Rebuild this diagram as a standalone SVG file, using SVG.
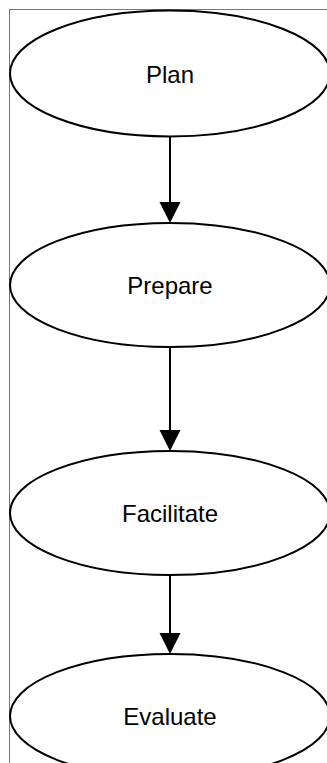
<svg xmlns="http://www.w3.org/2000/svg" width="327" height="763" viewBox="0 0 327 763">
<style>
.node ellipse{fill:#fff;stroke:#000;stroke-width:2}
.node text{font-family:"Liberation Sans",Arial,sans-serif;font-size:24px;fill:#000;text-anchor:middle}
.edge{stroke:#000;stroke-width:2;fill:none}
.head{fill:#000}
</style>
<rect x="9.5" y="9.5" width="330" height="770" fill="#fff" stroke="#777" stroke-width="1"/>
<g id="connectors">
<line class="edge" x1="170" y1="137" x2="170" y2="203"/>
<polygon class="head" points="159.5,202 180.5,202 170,223"/>
<line class="edge" x1="170" y1="347" x2="170" y2="431"/>
<polygon class="head" points="159.5,430 180.5,430 170,451"/>
<line class="edge" x1="170" y1="575" x2="170" y2="635"/>
<polygon class="head" points="159.5,633 180.5,633 170,654"/>
</g>
<g id="plan" class="node"><ellipse cx="170" cy="73.5" rx="160" ry="63"/><text x="170" y="82.5">Plan</text></g>
<g id="prepare" class="node"><ellipse cx="170" cy="285" rx="160" ry="62"/><text x="170" y="294">Prepare</text></g>
<g id="facilitate" class="node"><ellipse cx="170" cy="513" rx="160" ry="62"/><text x="170" y="522">Facilitate</text></g>
<g id="evaluate" class="node"><ellipse cx="170" cy="716" rx="160" ry="62"/><text x="170" y="725">Evaluate</text></g>
</svg>
